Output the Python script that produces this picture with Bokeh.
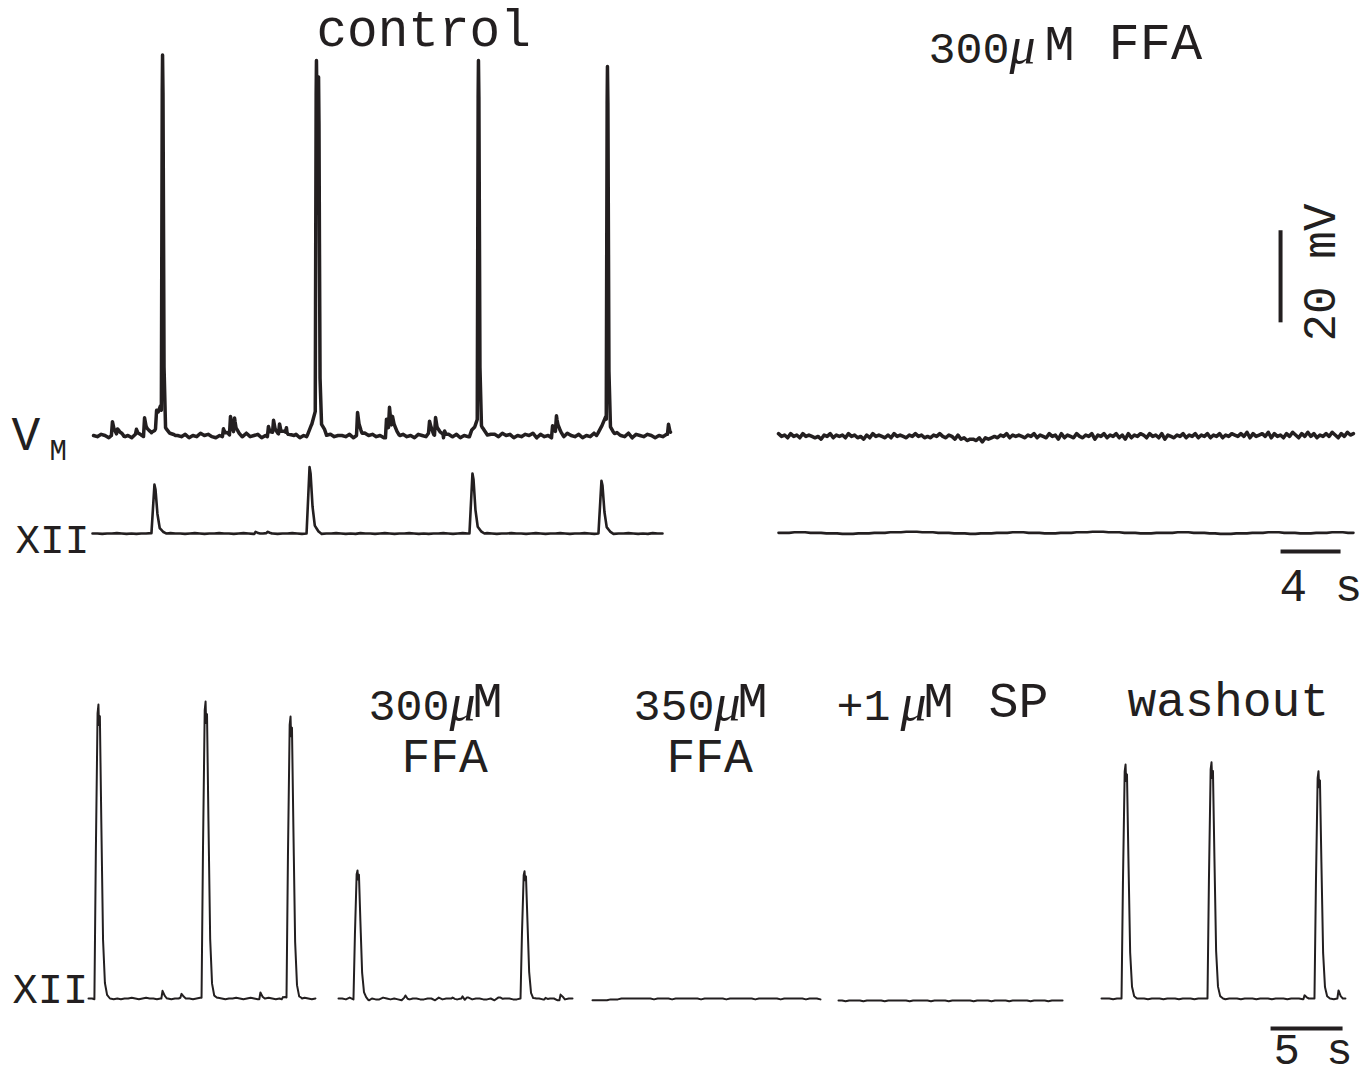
import numpy as np
from bokeh.plotting import figure
from bokeh.models import Range1d
from bokeh.core.properties import value
from bokeh.embed import file_html
from bokeh.resources import INLINE

# ---------------- DATA ----------------
# Top row: time in s, Vm in mV, XII in % of largest top burst
vm_ctrl_span = [0.07, 38.53]
vm_ctrl_rest = -60.0
vm_ctrl_ap_t = [4.67, 14.93, 15.07, 25.73, 34.33]
vm_ctrl_ap_amp = [78.3, 76.7, 68.0, 77.5, 76.9]
vm_ctrl_hump_t = [4.53, 14.87, 25.73, 34.20]
vm_ctrl_hump_amp = [5.4, 5.5, 4.0, 4.5]
vm_ctrl_psp_t = [1.33, 1.67, 2.93, 3.47, 4.27, 8.73, 9.20, 9.47, 11.73, 12.07, 12.47,
                 12.93, 17.67, 19.60, 19.80, 20.00, 22.47, 22.87, 23.47, 30.67, 30.93, 38.40]
vm_ctrl_psp_amp = [3.0, 1.3, 1.1, 4.1, 3.5, 1.7, 4.1, 3.5, 2.2, 2.8, 2.8,
                   1.1, 5.0, 3.3, 4.8, 2.6, 2.6, 3.7, 1.5, 2.6, 3.7, 2.2]
vm_ctrl_noise = ("5465354645" "3654574563" "4554635475" "6435465354" "7456354653"
                 "7456354654" "7364554635" "4756453647" "5645365474" "5635463547"
                 "6543564756" "3546573645" "3564754635" "4756354654" "7365465354" "64")

vm_ffa_span = [0.0, 38.33]
vm_ffa_rest = -60.2
vm_ffa_noise = ("7564756475" "6545365746" "5647564536" "4756546475" "6546575645"
                "4657546536" "3423324143" "4546574656" "5465746547" "5637465475"
                "4657365746" "5746374657" "6475647365" "4657465746" "5746574657"
                "6575847567" "5847564758" "6475857465" "7586475867")

xii_ctrl_span = [0.0, 38.0]
xii_ctrl_t = [4.13, 14.47, 25.33, 33.93]
xii_ctrl_amp = [74.0, 100.0, 91.0, 80.0]
xii_ctrl_small_t = [10.87, 11.67]
xii_ctrl_small_amp = [3.0, 2.0]
xii_ctrl_noise = ("5545565454556545655456545565545654556545565456545565454655"
                  "456545565454556545655456545565545654556545565456545565454655")

xii_ffa_span = [0.0, 38.33]
xii_ffa_noise = ("5556665554443334445556667776665554443344455566655544455566677766"
                 "655544455556665554433344455566655544455566655")

# Bottom row: time in s, XII in % of largest burst
b_ctrl_span = [0.0, 15.76]
b_ctrl_t = [0.69, 8.13, 14.03]
b_ctrl_amp = [98.0, 99.0, 94.0]
b_ctrl_blip_t = [5.14, 6.46, 11.94, 13.50]
b_ctrl_blip_amp = [2.3, 1.3, 2.0, 0.7]
b_ctrl_noise = "5545565454556545655456545565545654556545565456545565454655456545"

b_ffa300_span = [0.0, 16.25]
b_ffa300_t = [1.32, 12.92]
b_ffa300_amp = [43.0, 43.0]
b_ffa300_blip_t = [4.65, 7.92, 8.61, 11.25, 14.38, 15.42]
b_ffa300_blip_amp = [0.7, 0.6, 0.7, 0.6, 0.5, 1.0]
b_ffa300_noise = "5546445535446545436455445536455445364554453645544536455445536455"

b_ffa350_span = [0.0, 15.83]
b_ffa350_noise = "4444455566666666656666566666665666666566666665666666566666656665"

b_sp_span = [0.0, 15.56]
b_sp_noise = "5545555455555455555545555545555455555545555455554555554555545555"

b_wash_span = [0.0, 16.94]
b_wash_t = [1.67, 7.64, 15.07]
b_wash_amp = [78.0, 79.0, 76.0]
b_wash_blip_t = [14.10, 16.46]
b_wash_blip_amp = [1.3, 2.7]
b_wash_noise = "5554555455554555455545554555455545554555455545554555455545554555"

scalebar_mv = 20.0
scalebar_top_s = 4.0
scalebar_bot_s = 5.0

# ---------------- STYLE / LAYOUT ----------------
INK = "#231f20"
FONT = "Liberation Mono"
MU_FONT = "Liberation Serif"

# waveform templates (offset s, fraction of amplitude)
K_AP = ([-0.08, -0.02, 0.0, 0.03, 0.10, 0.20], [0, 0.9, 1.0, 0.9, 0.15, 0])
K_HUMP = ([-0.6, -0.25, 0.0, 0.25, 0.6, 1.0], [0, 0.4, 1.0, 0.5, 0.15, 0])
K_PSP = ([-0.07, 0.0, 0.10, 0.30, 0.50], [0, 1.0, 0.5, 0.15, 0])
K_XII_TOP = ([-0.2, -0.08, 0.0, 0.07, 0.2, 0.35, 0.6, 0.8], [0, 0.6, 1.0, 0.9, 0.4, 0.12, 0.03, 0])
K_XII_BOT = ([-0.28, -0.18, -0.06, 0.0, 0.04, 0.10, 0.20, 0.32, 0.45, 0.6, 0.8],
             [0, 0.5, 0.97, 1.0, 0.93, 0.96, 0.6, 0.2, 0.05, 0.01, 0])
K_BLIP = ([-0.08, 0.0, 0.15, 0.3], [0, 1.0, 0.3, 0])


def build(span, digits, k, base, groups):
    d = np.array([int(c) for c in digits], dtype=float)
    n = len(d)
    t0, t1 = span
    step = (t1 - t0) / (n - 1)
    ts = [t0 + step * np.arange(n)]
    for times, amps, kern in groups:
        for tc in times:
            ts.append(tc + np.array(kern[0]))
    t = np.unique(np.concatenate(ts))
    t = t[(t >= t0) & (t <= t1)]
    idx = np.clip(np.round((t - t0) / step).astype(int), 0, n - 1)
    y = base + (d[idx] - 5.0) * k
    for times, amps, kern in groups:
        for tc, a in zip(times, amps):
            y = y + a * np.interp(t, tc + np.array(kern[0]), kern[1], left=0, right=0)
    return t, y


W, H = 1368, 1080
X0, X1, Y0, Y1 = 0, W, 0, H  # image coordinates of the frame

p = figure(width=W, height=H, output_backend="svg", toolbar_location=None,
           x_range=Range1d(X0, X1), y_range=Range1d(Y1, Y0),
           x_axis_location=None, y_axis_location=None, min_border=0)
p.grid.visible = False
p.outline_line_color = None
p.background_fill_color = "white"
p.border_fill_color = "white"


def xr(name, x0, pps):
    p.extra_x_ranges[name] = Range1d((X0 - x0) / pps, (X1 - x0) / pps)


def yr(name, ybase, vbase, ppu):
    p.extra_y_ranges[name] = Range1d(vbase - (Y1 - ybase) / ppu, vbase + (ybase - Y0) / ppu)


TOP_PPS, BOT_PPS = 15.0, 14.4
xr("t_ctrl", 92, TOP_PPS)
xr("t_ffa", 778, TOP_PPS)
xr("b1", 88, BOT_PPS)
xr("b2", 338, BOT_PPS)
xr("b3", 592, BOT_PPS)
xr("b4", 838, BOT_PPS)
xr("b5", 1101, BOT_PPS)
yr("vm", 435, -60.0, 4.6)
yr("xii_top", 533, 0.0, 0.66)
yr("xii_bot", 998, 0.0, 3.0)


def draw(t, y, xname, yname, lw):
    p.line(t, y, x_range_name=xname, y_range_name=yname, line_color=INK,
           line_width=lw, line_join="round", line_cap="round")


# top control Vm
t, y = build(vm_ctrl_span, vm_ctrl_noise, 0.25, vm_ctrl_rest,
             [(vm_ctrl_hump_t, vm_ctrl_hump_amp, K_HUMP),
              (vm_ctrl_psp_t, vm_ctrl_psp_amp, K_PSP),
              (vm_ctrl_ap_t, vm_ctrl_ap_amp, K_AP)])
draw(t, y, "t_ctrl", "vm", 3.5)
# top FFA Vm
t, y = build(vm_ffa_span, vm_ffa_noise, 0.3, vm_ffa_rest, [])
draw(t, y, "t_ffa", "vm", 3.5)
# top XII
t, y = build(xii_ctrl_span, xii_ctrl_noise, 0.6, 0.0,
             [(xii_ctrl_t, xii_ctrl_amp, K_XII_TOP),
              (xii_ctrl_small_t, xii_ctrl_small_amp, K_BLIP)])
draw(t, y, "t_ctrl", "xii_top", 2.6)
t, y = build(xii_ffa_span, xii_ffa_noise, 0.8, 1.0, [])
draw(t, y, "t_ffa", "xii_top", 2.6)

# bottom XII
t, y = build(b_ctrl_span, b_ctrl_noise, 0.25, 0.0,
             [(b_ctrl_t, b_ctrl_amp, K_XII_BOT), (b_ctrl_blip_t, b_ctrl_blip_amp, K_BLIP)])
draw(t, y, "b1", "xii_bot", 2.0)
t, y = build(b_ffa300_span, b_ffa300_noise, 0.3, 0.0,
             [(b_ffa300_t, b_ffa300_amp, K_XII_BOT), (b_ffa300_blip_t, b_ffa300_blip_amp, K_BLIP)])
draw(t, y, "b2", "xii_bot", 2.0)
t, y = build(b_ffa350_span, b_ffa350_noise, 0.3, -0.3, [])
draw(t, y, "b3", "xii_bot", 2.0)
t, y = build(b_sp_span, b_sp_noise, 0.25, -0.7, [])
draw(t, y, "b4", "xii_bot", 2.0)
t, y = build(b_wash_span, b_wash_noise, 0.25, 0.0,
             [(b_wash_t, b_wash_amp, K_XII_BOT), (b_wash_blip_t, b_wash_blip_amp, K_BLIP)])
draw(t, y, "b5", "xii_bot", 2.0)

# scale bars
mv_bar_t, mv_bar_v0 = 33.47, -35.4
p.segment(x0=[mv_bar_t], y0=[mv_bar_v0], x1=[mv_bar_t], y1=[mv_bar_v0 + scalebar_mv],
          x_range_name="t_ffa", y_range_name="vm", line_color=INK, line_width=4)
s4_t0, s4_y = 33.47, -27.3
p.segment(x0=[s4_t0], y0=[s4_y], x1=[s4_t0 + scalebar_top_s], y1=[s4_y],
          x_range_name="t_ffa", y_range_name="xii_top", line_color=INK, line_width=4)
s5_t0, s5_y = 11.74, -10.0
p.segment(x0=[s5_t0], y0=[s5_y], x1=[s5_t0 + scalebar_bot_s], y1=[s5_y],
          x_range_name="b5", y_range_name="xii_bot", line_color=INK, line_width=4)


# labels (y = desired baseline; the renderer puts the alphabetic baseline ~0.3 em lower)
def txt(x, y, s, size=46, font=FONT, style="normal", align="left", baseline="alphabetic", angle=0.0):
    if baseline == "alphabetic":
        y = y - 0.30 * size
    p.text(x=[x], y=[y], text=[s], text_font=value(font), text_font_size=f"{size}px",
           text_font_style=style, text_color=INK, text_align=align,
           text_baseline=baseline, angle=angle)


DIG = 45
MU = 52
LET = 50
txt(316, 47, "control", size=51)
txt(928, 61, "300", size=DIG)
txt(1009, 61, "\u03bc", size=MU, font=MU_FONT, style="italic")
txt(1044, 61, "M", size=LET)
txt(1108, 61, "FFA", size=52)
txt(11, 451, "V", size=48)
txt(49, 461, "M", size=29)
txt(15, 554, "XII", size=41)
txt(1322, 272, "20 mV", size=46, align="center", baseline="middle", angle=np.pi / 2)
txt(1279, 602, "4 s", size=46)

txt(368, 718, "300", size=DIG)
txt(449, 718, "\u03bc", size=MU, font=MU_FONT, style="italic")
txt(472, 718, "M", size=LET)
txt(401, 773, "FFA", size=48)
txt(633, 718, "350", size=DIG)
txt(714, 718, "\u03bc", size=MU, font=MU_FONT, style="italic")
txt(737, 718, "M", size=LET)
txt(666, 773, "FFA", size=48)
txt(836, 718, "+1", size=DIG)
txt(900, 718, "\u03bc", size=MU, font=MU_FONT, style="italic")
txt(923, 718, "M", size=LET)
txt(988, 718, "SP", size=LET)
txt(1127, 717, "washout", size=48)
txt(12, 1004, "XII", size=42)
txt(1273, 1065, "5 s", size=44)

open("out.html", "w").write(file_html(p, INLINE))
